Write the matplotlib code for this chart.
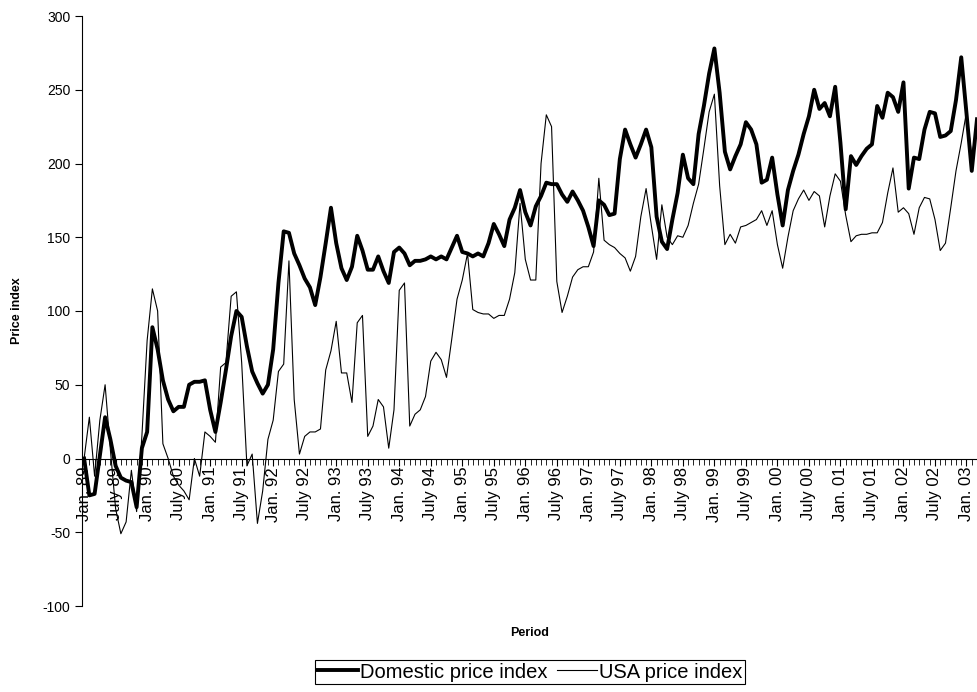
import matplotlib
matplotlib.use("Agg")
import matplotlib.pyplot as plt
from matplotlib.ticker import MultipleLocator

plt.rcParams['font.family'] = ['Liberation Sans', 'DejaVu Sans']
plt.rcParams['axes.unicode_minus'] = False

# monthly values, Jan. 89 to Mar. 03
domestic = [0, -25, -24, 2, 28, 13, -5, -13, -15, -16,
            -33, 7, 18, 89, 74, 53, 40, 32, 35, 35,
            50, 52, 52, 53, 33, 18, 38, 60, 83, 100,
            96, 76, 59, 51, 44, 50, 74, 119, 154, 153,
            139, 131, 122, 116, 104, 123, 146, 170, 146, 129,
            121, 130, 151, 141, 128, 128, 137, 127, 119, 140,
            143, 139, 131, 134, 134, 135, 137, 135, 137, 135,
            143, 151, 140, 139, 137, 139, 137, 146, 159, 152,
            144, 162, 170, 182, 167, 158, 171, 178, 187, 186,
            186, 179, 174, 181, 175, 168, 157, 144, 175, 172,
            165, 166, 203, 223, 213, 204, 213, 223, 211, 164,
            147, 142, 162, 180, 206, 190, 186, 220, 239, 261,
            278, 248, 208, 196, 205, 213, 228, 223, 213, 187,
            189, 204, 179, 158, 182, 195, 206, 220, 232, 250,
            237, 241, 232, 252, 214, 169, 205, 199, 205, 210,
            213, 239, 231, 248, 245, 235, 255, 183, 204, 203,
            223, 235, 234, 218, 219, 222, 243, 272, 234, 195,
            230]

usa = [0, 28, -12, 26, 50, 6, -34, -51, -43, -8,
       -36, 15, 80, 115, 100, 10, 0, -12, -18, -22,
       -28, 0, -12, 18, 15, 11, 62, 65, 110, 113,
       65, -5, 3, -44, -22, 13, 26, 59, 64, 134,
       40, 3, 15, 18, 18, 20, 60, 73, 93, 58,
       58, 38, 92, 97, 15, 22, 40, 35, 7, 33,
       114, 119, 22, 30, 33, 42, 66, 72, 67, 55,
       81, 108, 121, 139, 101, 99, 98, 98, 95, 97,
       97, 108, 126, 173, 135, 121, 121, 200, 233, 225,
       120, 99, 110, 123, 128, 130, 130, 140, 190, 148,
       145, 143, 139, 136, 127, 137, 164, 183, 158, 135,
       172, 150, 145, 151, 150, 158, 173, 186, 210, 235,
       247, 185, 145, 152, 146, 157, 158, 160, 162, 168,
       158, 168, 145, 129, 150, 168, 176, 182, 175, 181,
       178, 157, 178, 193, 188, 165, 147, 151, 152, 152,
       153, 153, 160, 180, 197, 167, 170, 166, 152, 170,
       177, 176, 162, 141, 146, 170, 195, 214, 235, 205,
       225]

years = ['89', '90', '91', '92', '93', '94', '95', '96',
         '97', '98', '99', '00', '01', '02', '03']
tick_labels = []
for y in years:
    tick_labels += ['Jan. ' + y, 'July ' + y]
tick_labels = tick_labels[:-1]

months = list(range(len(domestic)))

fig = plt.figure(figsize=(9.77, 6.92), dpi=100)
ax = fig.add_axes([82 / 977, 1 - 606 / 692, 1 - 82 / 977, 590 / 692])

l_usa, = ax.plot(months, usa, color='black', lw=0.8,
                 solid_joinstyle='round', label='USA price index')
l_dom, = ax.plot(months, domestic, color='black', lw=2.8,
                 solid_joinstyle='round', label='Domestic price index')

ax.spines['top'].set_visible(False)
ax.spines['right'].set_visible(False)
ax.spines['bottom'].set_position(('data', 0))

ax.set_ylim(-100, 300)
ax.set_yticks(range(-100, 301, 50))
ax.set_xlim(-0.4, 170)
ax.set_xticks(range(0, 6 * len(tick_labels), 6))
ax.set_xticklabels(tick_labels, rotation=90, va='top')
ax.xaxis.set_minor_locator(MultipleLocator(1))
ax.tick_params(axis='x', which='major', length=5, pad=1, labelsize=12)
ax.tick_params(axis='x', which='minor', length=4)
ax.tick_params(axis='y', length=5, labelsize=10)

fig.text(17 / 977, 1 - 311 / 692, 'Price index', rotation=90,
         ha='center', va='center', fontweight='bold', fontsize=9)
fig.text(530 / 977, 1 - 633 / 692, 'Period', ha='center', va='center',
         fontweight='bold', fontsize=9)

leg = fig.legend([l_dom, l_usa], ['Domestic price index', 'USA price index'],
                 loc='center', bbox_to_anchor=(530 / 977, 1 - 672 / 692),
                 ncol=2, fontsize=14.5, frameon=True, fancybox=False,
                 edgecolor='black', framealpha=1, borderpad=0.1,
                 handlelength=2.0, handletextpad=0.1, columnspacing=0.5,
                 borderaxespad=0)
leg.get_frame().set_linewidth(0.8)

plt.savefig('out.png', dpi=100)
